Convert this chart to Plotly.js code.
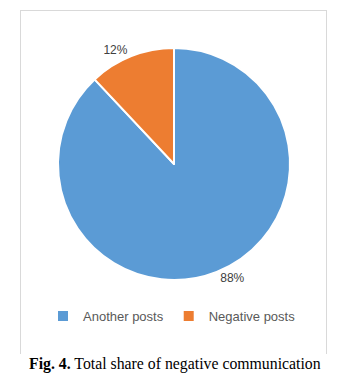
<!DOCTYPE html>
<html><head><meta charset="utf-8">
<script src="https://cdn.plot.ly/plotly-3.0.1.min.js"></script>
<style>html,body{margin:0;padding:0;background:#fff}#chart{width:350px;height:380px}</style>
</head><body><div id="chart"></div>
<script>
const categories = ["Another posts", "Negative posts"];
const shares = [88, 12];
const colors = ["#5B9BD5", "#ED7D31"];
const caption = "<b>Fig. 4.</b> Total share of negative communication";

const trace = {
  type: "pie",
  labels: categories,
  values: shares,
  sort: false,
  direction: "clockwise",
  rotation: 0,
  marker: {colors: colors, line: {color: "#ffffff", width: 2}},
  textinfo: "percent",
  texttemplate: "%{percent:.0%}",
  textposition: "outside",
  textfont: {family: "Liberation Sans, Arial, sans-serif", size: 12, color: "#404040"},
  hoverinfo: "none",
  domain: {x: [58/350, 290/350], y: [1 - 280/380, 1 - 48/380]},
  automargin: false
};

const W = 350, H = 380;
const px = (x) => x / W, py = (y) => 1 - y / H;
const lineStyle = {color: "#D9D9D9", width: 1};
const layout = {
  width: W, height: H,
  margin: {l: 0, r: 0, t: 0, b: 0},
  paper_bgcolor: "#ffffff",
  showlegend: true,
  legend: {orientation: "h", x: px(172), xanchor: "center", y: py(316), yanchor: "middle",
    font: {family: "Liberation Sans, Arial, sans-serif", size: 13, color: "#595959"},
    itemwidth: 30, traceorder: "normal"},
  shapes: [
    {type: "line", xref: "paper", yref: "paper", x0: px(20), x1: px(326), y0: py(10.5), y1: py(10.5), line: lineStyle},
    {type: "line", xref: "paper", yref: "paper", x0: px(20.5), x1: px(20.5), y0: py(10), y1: py(354), line: lineStyle},
    {type: "line", xref: "paper", yref: "paper", x0: px(326.5), x1: px(326.5), y0: py(10), y1: py(354), line: lineStyle}
  ],
  annotations: [
    {text: caption, xref: "paper", yref: "paper", x: px(175), y: py(364), xanchor: "center", yanchor: "middle",
     showarrow: false, font: {family: "Liberation Serif, Times New Roman, serif", size: 15.8, color: "#000000"}}
  ]
};
Plotly.newPlot("chart", [trace], layout, {displayModeBar: false, staticPlot: true});
</script></body></html>
